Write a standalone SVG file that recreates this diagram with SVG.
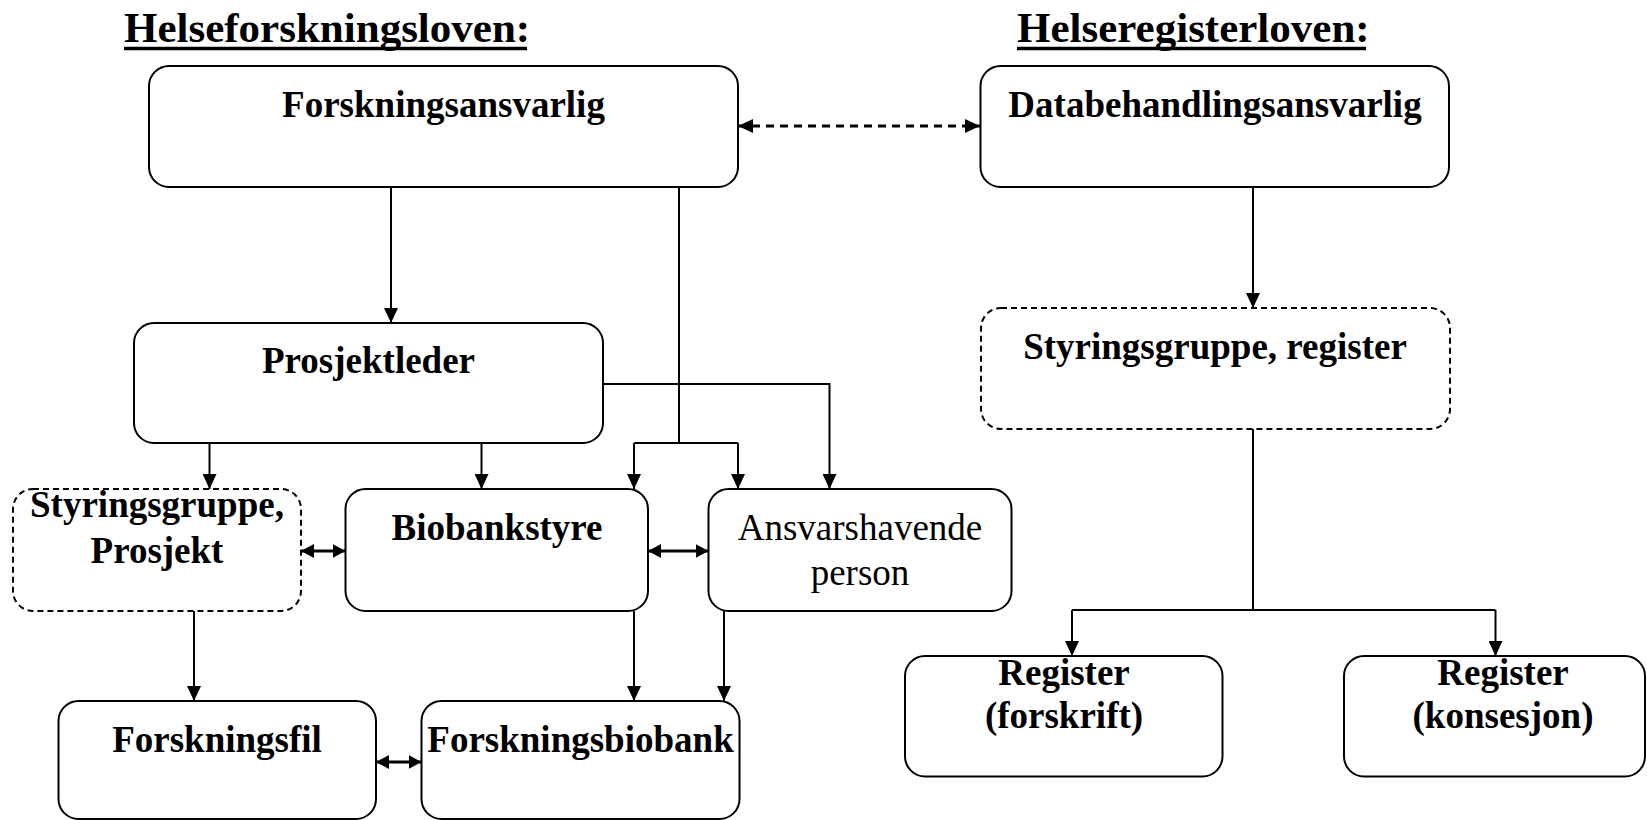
<svg xmlns="http://www.w3.org/2000/svg" width="1647" height="820" viewBox="0 0 1647 820">
<style>
.box{fill:#fff;stroke:#000;stroke-width:2}
.dbox{fill:#fff;stroke:#000;stroke-width:2;stroke-dasharray:6 4}
.t{font-family:"Liberation Serif","Times New Roman",serif;font-size:37px;font-weight:bold;text-anchor:middle;fill:#000}
.tn{font-family:"Liberation Serif","Times New Roman",serif;font-size:37px;font-weight:normal;text-anchor:middle;fill:#000}
.title{font-family:"Liberation Serif","Times New Roman",serif;font-size:43px;font-weight:bold;fill:#000}
.ln{fill:none;stroke:#000;stroke-width:2}
.arr{fill:none;stroke:#000;stroke-width:2;marker-end:url(#ah)}
.darr{fill:none;stroke:#000;stroke-width:3;marker-start:url(#as);marker-end:url(#as)}
.dash{fill:none;stroke:#000;stroke-width:3;stroke-dasharray:8 6;marker-start:url(#ah);marker-end:url(#ah)}
</style>
<defs>
<marker id="ah" viewBox="0 0 15 14" refX="15" refY="7" markerWidth="15" markerHeight="14" markerUnits="userSpaceOnUse" orient="auto-start-reverse"><path d="M0,0 L15,7 L0,14 z" fill="#000"/></marker>
<marker id="as" viewBox="0 0 13 14" refX="13" refY="7" markerWidth="13" markerHeight="14" markerUnits="userSpaceOnUse" orient="auto-start-reverse"><path d="M0,0 L13,7 L0,14 z" fill="#000"/></marker>
</defs>
<rect width="1647" height="820" fill="#fff"/>
<g id="titles">
<text class="title" x="124" y="42">Helseforskningsloven:</text>
<line x1="124" y1="48.5" x2="527" y2="48.5" stroke="#000" stroke-width="3.5"/>
<text class="title" x="1017" y="42">Helseregisterloven:</text>
<line x1="1017" y1="48.5" x2="1366" y2="48.5" stroke="#000" stroke-width="3.5"/>
</g>
<g id="connectors">
<path class="dash" d="M738,126 H980"/>
<path class="arr" d="M391,187 V323"/>
<path class="ln" d="M679,187 V443 M634,443 H738"/>
<path class="arr" d="M634,443 V489"/>
<path class="arr" d="M738,443 V489"/>
<path class="arr" d="M603,384 H829.5 V489"/>
<path class="arr" d="M209.5,443 V489"/>
<path class="arr" d="M481.5,443 V489"/>
<path class="darr" d="M301,551 H345.5"/>
<path class="darr" d="M648,551 H708.5"/>
<path class="arr" d="M194,611 V701"/>
<path class="arr" d="M634,611 V701"/>
<path class="arr" d="M724,611 V701"/>
<path class="darr" d="M376,762 H421.5"/>
<path class="arr" d="M1253,187 V308"/>
<path class="ln" d="M1253,429 V610 M1072,610 H1495.5"/>
<path class="arr" d="M1072,610 V656"/>
<path class="arr" d="M1495.5,610 V656"/>
</g>
<g id="forskningsansvarlig">
<rect class="box" x="149" y="66" width="589" height="121" rx="20"/>
<text class="t" x="443.5" y="117">Forskningsansvarlig</text>
</g>
<g id="prosjektleder">
<rect class="box" x="134" y="323" width="469" height="120" rx="20"/>
<text class="t" x="368.5" y="373">Prosjektleder</text>
</g>
<g id="styringsgruppe-prosjekt">
<rect class="dbox" x="13" y="489" width="288" height="122" rx="20"/>
<text class="t" x="157" y="517">Styringsgruppe,</text>
<text class="t" x="157" y="563">Prosjekt</text>
</g>
<g id="biobankstyre">
<rect class="box" x="345.5" y="489" width="302.5" height="122" rx="20"/>
<text class="t" x="497" y="540">Biobankstyre</text>
</g>
<g id="ansvarshavende">
<rect class="box" x="708.5" y="489" width="303" height="122" rx="20"/>
<text class="tn" x="860" y="540">Ansvarshavende</text>
<text class="tn" x="860" y="585">person</text>
</g>
<g id="forskningsfil">
<rect class="box" x="58.5" y="701" width="317.5" height="118" rx="20"/>
<text class="t" x="217" y="752">Forskningsfil</text>
</g>
<g id="forskningsbiobank">
<rect class="box" x="421.5" y="701" width="318" height="118" rx="20"/>
<text class="t" x="580.5" y="752">Forskningsbiobank</text>
</g>
<g id="databehandlingsansvarlig">
<rect class="box" x="980.5" y="66" width="468.5" height="121" rx="20"/>
<text class="t" x="1215" y="117">Databehandlingsansvarlig</text>
</g>
<g id="styringsgruppe-register">
<rect class="dbox" x="981" y="308" width="469" height="121" rx="20"/>
<text class="t" x="1215" y="359">Styringsgruppe, register</text>
</g>
<g id="register-forskrift">
<rect class="box" x="905" y="656" width="317.5" height="120.5" rx="20"/>
<text class="t" x="1064" y="685">Register</text>
<text class="t" x="1064" y="728">(forskrift)</text>
</g>
<g id="register-konsesjon">
<rect class="box" x="1344" y="656" width="301" height="120.5" rx="20"/>
<text class="t" x="1503" y="685">Register</text>
<text class="t" x="1503" y="728">(konsesjon)</text>
</g>
</svg>
